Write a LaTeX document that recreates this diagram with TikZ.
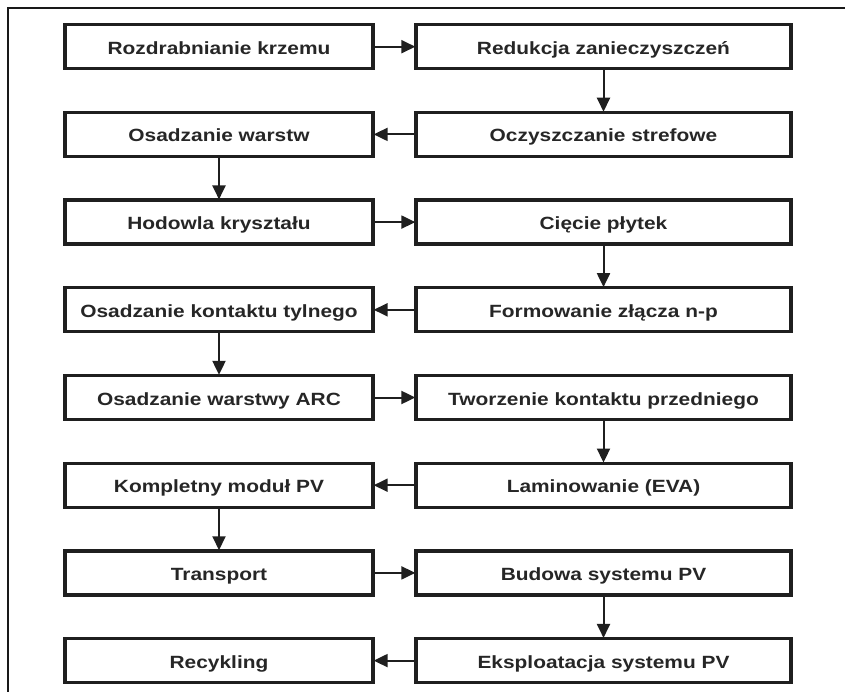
\documentclass[tikz,border=0pt]{standalone}
\usepackage{fontspec}
\setmainfont{Liberation Sans}[FakeStretch=1.18]
\usetikzlibrary{arrows.meta}
\begin{document}
\begin{tikzpicture}[x=1pt,y=-1pt,
  stepbox/.style={draw=black!88, line width=3.3pt, minimum height=44pt,
    inner sep=0pt, text height=15pt, text depth=0pt, text=black!85,
    font=\fontsize{17.7}{21}\selectfont\bfseries},
  lbox/.style={stepbox, minimum width=308pt},
  rbox/.style={stepbox, minimum width=375pt},
  flow/.style={draw=black!88, line width=2pt,
    -{Triangle[length=14pt,width=13pt]}, shorten >=-1pt}]
\useasboundingbox (0,0) rectangle (845,692);
% page frame (top and left edges)
\draw[line width=2pt, black!90] (8,692) -- (8,8) -- (845,8);
% left column
\node[lbox] (l1) at (219,46.7) {Rozdrabnianie krzemu};
\node[lbox] (l2) at (219,134.4) {Osadzanie warstw};
\node[lbox] (l3) at (219,222.1) {Hodowla kryształu};
\node[lbox] (l4) at (219,309.8) {Osadzanie kontaktu tylnego};
\node[lbox] (l5) at (219,397.5) {Osadzanie warstwy ARC};
\node[lbox] (l6) at (219,485.2) {Kompletny moduł PV};
\node[lbox] (l7) at (219,572.9) {Transport};
\node[lbox] (l8) at (219,660.6) {Recykling};
% right column
\node[rbox] (r1) at (603.5,46.7) {Redukcja zanieczyszczeń};
\node[rbox] (r2) at (603.5,134.4) {Oczyszczanie strefowe};
\node[rbox] (r3) at (603.5,222.1) {Cięcie płytek};
\node[rbox] (r4) at (603.5,309.8) {Formowanie złącza n-p};
\node[rbox] (r5) at (603.5,397.5) {Tworzenie kontaktu przedniego};
\node[rbox] (r6) at (603.5,485.2) {Laminowanie (EVA)};
\node[rbox] (r7) at (603.5,572.9) {Budowa systemu PV};
\node[rbox] (r8) at (603.5,660.6) {Eksploatacja systemu PV};
% process flow (serpentine)
\draw[flow] (l1) -- (r1);
\draw[flow] (r1) -- (r2);
\draw[flow] (r2) -- (l2);
\draw[flow] (l2) -- (l3);
\draw[flow] (l3) -- (r3);
\draw[flow] (r3) -- (r4);
\draw[flow] (r4) -- (l4);
\draw[flow] (l4) -- (l5);
\draw[flow] (l5) -- (r5);
\draw[flow] (r5) -- (r6);
\draw[flow] (r6) -- (l6);
\draw[flow] (l6) -- (l7);
\draw[flow] (l7) -- (r7);
\draw[flow] (r7) -- (r8);
\draw[flow] (r8) -- (l8);
\end{tikzpicture}
\end{document}
